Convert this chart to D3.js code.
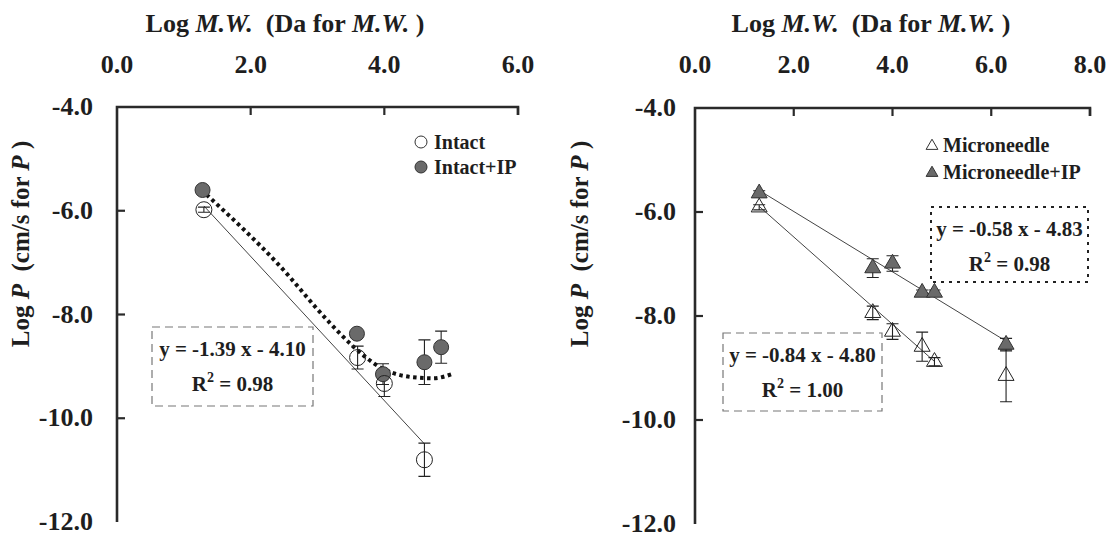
<!DOCTYPE html>
<html>
<head>
<meta charset="utf-8">
<script src="https://cdn.jsdelivr.net/npm/d3@7"></script>
<style>
  html, body { margin: 0; padding: 0; background: #fff; }
  svg text { font-family: "Liberation Serif", "Times New Roman", serif; font-weight: bold; fill: #1e1e1e; white-space: pre; }
</style>
</head>
<body>
<svg id="chart" width="1110" height="537"></svg>
<script>
// ---- Intact skin (left panel) ----
const intactX   = [1.3, 3.6, 4.0, 4.6];
const intactY   = [-5.98, -8.83, -9.33, -10.80];
const intactErr = [0.05, 0.22, 0.25, 0.32];

const intactIPX   = [1.28, 3.59, 3.98, 4.6, 4.85];
const intactIPY   = [-5.60, -8.37, -9.15, -8.92, -8.63];
const intactIPErr = [0.03, 0.05, 0.20, 0.43, 0.31];

// polynomial trend of Intact+IP, sampled along the drawn curve
const intactIPTrendX = [1.34, 2.44, 3.14, 3.53, 3.94, 4.43, 4.73, 5.01];
const intactIPTrendY = [-5.69, -7.07, -8.10, -8.61, -9.02, -9.21, -9.23, -9.15];

// linear fit of Intact: slope, intercept, x range
const intactFit = [-1.39, -4.10, 1.3, 4.6];

// ---- Microneedle-treated skin (right panel) ----
const mnX   = [1.3, 3.6, 4.0, 4.6, 4.85, 6.3];
const mnY   = [-5.91, -7.94, -8.30, -8.59, -8.88, -9.15];
const mnErr = [0.05, 0.13, 0.15, 0.28, 0.08, 0.50];

const mnIPX   = [1.3, 3.6, 4.0, 4.6, 4.85, 6.3];
const mnIPY   = [-5.64, -7.08, -6.99, -7.55, -7.55, -8.55];
const mnIPErr = [0.05, 0.18, 0.15, 0.05, 0.05, 0.12];

const mnFit   = [-0.84, -4.80, 1.3, 4.85];
const mnIPFit = [-0.58, -4.83, 1.3, 6.3];

// axis ticks
const yTicks = [-4, -6, -8, -10, -12];
const xTicksLeft = [0, 2, 4, 6];
const xTicksRight = [0, 2, 4, 6, 8];

const svg = d3.select("#chart");
const fmt = d => d.toFixed(1);

function drawAxes(g, x, y, xTicks, cfg) {
  const [x0, x1] = x.range();
  const [yTop, yBot] = [y(-4), y(-12)];
  // top axis line and left axis line
  g.append("path")
    .attr("d", `M${x1},${yTop + 8}V${yTop}H${x0}V${yBot}`)
    .attr("fill", "none").attr("stroke", "#2a2a2a").attr("stroke-width", 2.6);
  // inward ticks on the top axis
  g.selectAll(".xt").data(xTicks.slice(1)).join("line")
    .attr("x1", d => x(d)).attr("x2", d => x(d))
    .attr("y1", yTop).attr("y2", yTop + 8)
    .attr("stroke", "#2a2a2a").attr("stroke-width", 2.2);
  g.selectAll(".xl").data(xTicks).join("text")
    .attr("x", d => x(d)).attr("y", 73)
    .attr("text-anchor", "middle").attr("font-size", 26)
    .text(d => fmt(d));
  // inward ticks on the left axis
  g.selectAll(".yt").data(yTicks.slice(1, -1)).join("line")
    .attr("x1", x0).attr("x2", x0 + 8)
    .attr("y1", d => y(d)).attr("y2", d => y(d))
    .attr("stroke", "#2a2a2a").attr("stroke-width", 2.2);
  g.selectAll(".yl").data(yTicks).join("text")
    .attr("x", cfg.yLabelRight).attr("y", d => y(d) + 8)
    .attr("text-anchor", "end").attr("font-size", 26)
    .text(d => fmt(d));
  // x title
  const t = g.append("text").attr("x", cfg.titleX).attr("y", 32)
    .attr("text-anchor", "middle").attr("font-size", 26);
  t.append("tspan").text("Log ");
  t.append("tspan").attr("font-style", "italic").text("M.W.");
  t.append("tspan").text("  (Da for ");
  t.append("tspan").attr("font-style", "italic").text("M.W.");
  t.append("tspan").text(" )");
  // y title
  const yt = g.append("text")
    .attr("transform", `translate(${cfg.yTitleX},${cfg.yTitleY}) rotate(-90)`)
    .attr("text-anchor", "middle").attr("font-size", 25);
  yt.append("tspan").text("Log ");
  yt.append("tspan").attr("font-style", "italic").text("P");
  yt.append("tspan").text("  (cm/s for ");
  yt.append("tspan").attr("font-style", "italic").text("P");
  yt.append("tspan").text(" )");
}

function errorBars(g, x, y, xs, ys, es) {
  const rows = xs.map((d, i) => ({ x: xs[i], y: ys[i], e: es[i] }));
  const eg = g.append("g").attr("stroke", "#222").attr("stroke-width", 1.1).attr("fill", "none");
  eg.selectAll("path").data(rows).join("path")
    .attr("d", d => {
      const cx = x(d.x), t = y(d.y + d.e), b = y(d.y - d.e);
      return `M${cx},${t}V${b}M${cx - 6},${t}H${cx + 6}M${cx - 6},${b}H${cx + 6}`;
    });
}

function fitLine(g, x, y, fit) {
  const [m, c, a, b] = fit;
  g.append("line")
    .attr("x1", x(a)).attr("y1", y(m * a + c))
    .attr("x2", x(b)).attr("y2", y(m * b + c))
    .attr("stroke", "#444").attr("stroke-width", 1);
}

function eqBox(g, box, lines, dash, color) {
  g.append("rect")
    .attr("x", box[0]).attr("y", box[1]).attr("width", box[2]).attr("height", box[3])
    .attr("fill", "none").attr("stroke", color).attr("stroke-width", dash === "dot" ? 2 : 1.2)
    .attr("stroke-dasharray", dash === "dot" ? "3 5" : "8 5");
  const cx = box[0] + box[2] / 2;
  g.append("text").attr("x", cx).attr("y", box[1] + 29)
    .attr("text-anchor", "middle").attr("font-size", 21).text(lines[0]);
  const r = g.append("text").attr("x", cx).attr("y", box[1] + 64)
    .attr("text-anchor", "middle").attr("font-size", 21);
  r.append("tspan").text("R");
  r.append("tspan").attr("font-size", 14).attr("dy", -9).text("2");
  r.append("tspan").attr("dy", 9).text(" = " + lines[1]);
}

const tri = d3.symbol().type(d3.symbolTriangle).size(110);

// ================= left panel =================
{
  const g = svg.append("g");
  const x = d3.scaleLinear().domain([0, 6]).range([117, 518]);
  const y = d3.scaleLinear().domain([-4, -12]).range([107, 522]);
  drawAxes(g, x, y, xTicksLeft, { yLabelRight: 93, titleX: 285, yTitleX: 29, yTitleY: 244 });

  eqBox(g, [152, 327, 161, 79], ["y = -1.39 x - 4.10", "0.98"], "dash", "#777");

  fitLine(g, x, y, intactFit);
  g.append("path")
    .datum(intactIPTrendX.map((d, i) => [d, intactIPTrendY[i]]))
    .attr("d", d3.line().x(d => x(d[0])).y(d => y(d[1])).curve(d3.curveMonotoneX))
    .attr("fill", "none").attr("stroke", "#111").attr("stroke-width", 4)
    .attr("stroke-dasharray", "3.5 3.5");

  errorBars(g, x, y, intactIPX, intactIPY, intactIPErr);
  errorBars(g, x, y, intactX, intactY, intactErr);

  g.selectAll(".ip").data(intactIPX).join("circle")
    .attr("cx", d => x(d)).attr("cy", (d, i) => y(intactIPY[i])).attr("r", 7.5)
    .attr("fill", "#6a6a6a").attr("stroke", "#333").attr("stroke-width", 1);
  g.selectAll(".it").data(intactX).join("circle")
    .attr("cx", d => x(d)).attr("cy", (d, i) => y(intactY[i])).attr("r", 8)
    .attr("fill", "none").attr("stroke", "#222").attr("stroke-width", 1);

  // legend
  g.append("circle").attr("cx", 421).attr("cy", 142).attr("r", 6)
    .attr("fill", "none").attr("stroke", "#333").attr("stroke-width", 1);
  g.append("text").attr("x", 434).attr("y", 149).attr("font-size", 20).text("Intact");
  g.append("circle").attr("cx", 421).attr("cy", 167).attr("r", 6)
    .attr("fill", "#6a6a6a").attr("stroke", "#333").attr("stroke-width", 1);
  g.append("text").attr("x", 434).attr("y", 174).attr("font-size", 20).text("Intact+IP");
}

// ================= right panel =================
{
  const g = svg.append("g");
  const x = d3.scaleLinear().domain([0, 8]).range([695, 1090]);
  const y = d3.scaleLinear().domain([-4, -12]).range([108, 524]);
  drawAxes(g, x, y, xTicksRight, { yLabelRight: 676, titleX: 871, yTitleX: 588, yTitleY: 244 });

  eqBox(g, [723, 333, 159, 78], ["y = -0.84 x - 4.80", "1.00"], "dash", "#777");
  eqBox(g, [931, 207, 157, 75], ["y = -0.58 x - 4.83", "0.98"], "dot", "#222");

  fitLine(g, x, y, mnFit);
  fitLine(g, x, y, mnIPFit);

  errorBars(g, x, y, mnIPX, mnIPY, mnIPErr);
  errorBars(g, x, y, mnX, mnY, mnErr);

  g.selectAll(".mip").data(mnIPX).join("path")
    .attr("d", tri).attr("transform", (d, i) => `translate(${x(d)},${y(mnIPY[i])})`)
    .attr("fill", "#6a6a6a").attr("stroke", "#333").attr("stroke-width", 1);
  g.selectAll(".mn").data(mnX).join("path")
    .attr("d", tri).attr("transform", (d, i) => `translate(${x(d)},${y(mnY[i])})`)
    .attr("fill", "none").attr("stroke", "#222").attr("stroke-width", 1);

  // legend
  const lt = d3.symbol().type(d3.symbolTriangle).size(60);
  g.append("path").attr("d", lt).attr("transform", "translate(932,146)")
    .attr("fill", "none").attr("stroke", "#333").attr("stroke-width", 1);
  g.append("text").attr("x", 943).attr("y", 152).attr("font-size", 20).text("Microneedle");
  g.append("path").attr("d", lt).attr("transform", "translate(932,173)")
    .attr("fill", "#6a6a6a").attr("stroke", "#333").attr("stroke-width", 1);
  g.append("text").attr("x", 943).attr("y", 179).attr("font-size", 20).text("Microneedle+IP");
}
</script>
</body>
</html>
